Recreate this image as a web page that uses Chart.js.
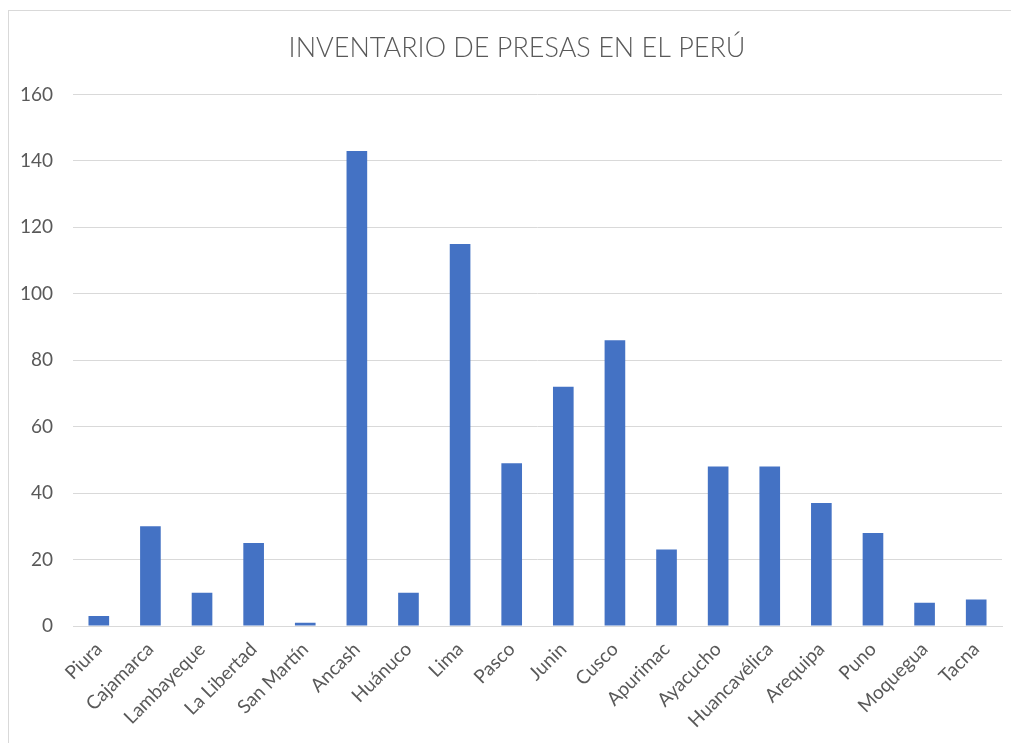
<!DOCTYPE html>
<html>
<head>
<meta charset="utf-8">
<script src="https://cdn.jsdelivr.net/npm/chart.js@4/dist/chart.umd.min.js"></script>
<style>
  html, body { margin: 0; padding: 0; background: #fff; }
  #wrap { position: relative; width: 1011px; height: 743px; overflow: hidden; }
  #frame { position: absolute; left: 8px; top: 10px; width: 1100px; height: 900px; border: 1px solid #d9d9d9; box-sizing: border-box; }
  canvas { position: absolute; left: 0; top: 0; }
</style>
</head>
<body>
<div id="wrap">
  <div id="frame"></div>
  <canvas id="c" width="1043" height="743"></canvas>
</div>
<script>
const title = "INVENTARIO DE PRESAS EN EL PERÚ";
const categories = ["Piura", "Cajamarca", "Lambayeque", "La Libertad", "San Martín", "Ancash", "Huánuco", "Lima", "Pasco", "Junin", "Cusco", "Apurimac", "Ayacucho", "Huancavélica", "Arequipa", "Puno", "Moquegua", "Tacna"];
const presas = [3, 30, 10, 25, 1, 143, 10, 115, 49, 72, 86, 23, 48, 48, 37, 28, 7, 8];
const yTicks = [0, 20, 40, 60, 80, 100, 120, 140, 160];

const textColor = "#595959";
const gridColor = "#d9d9d9";

new Chart(document.getElementById("c"), {
  type: "bar",
  data: {
    labels: categories,
    datasets: [{
      label: "Presas",
      data: presas,
      backgroundColor: "#4472C4",
      borderWidth: 0,
      barPercentage: 0.4,
      categoryPercentage: 1.0
    }]
  },
  options: {
    responsive: false,
    animation: false,
    devicePixelRatio: 1,
    layout: { padding: { left: 0, right: 9, top: 0, bottom: 0 } },
    plugins: {
      legend: { display: false },
      tooltip: { enabled: false },
      title: {
        display: true,
        text: title,
        color: textColor,
        font: { family: "Lato", size: 27, weight: "300", lineHeight: 1.2 },
        padding: { top: 32, bottom: 30 }
      }
    },
    scales: {
      x: {
        grid: { display: false, drawTicks: false },
        border: { display: true, color: gridColor, width: 1 },
        ticks: {
          color: textColor,
          font: { family: "Lato", size: 19 },
          maxRotation: 45,
          minRotation: 45,
          padding: 12,
          autoSkip: false
        },
        afterFit: (s) => { s.height = 743 - 626; }
      },
      y: {
        min: 0,
        max: 160,
        afterBuildTicks: (s) => { s.ticks = yTicks.map(v => ({ value: v })); },
        grid: { color: gridColor, lineWidth: 1, drawTicks: false },
        border: { display: false },
        ticks: {
          color: textColor,
          font: { family: "Lato", size: 19 },
          padding: 20
        },
        afterFit: (s) => { s.width = 73; }
      },
      ySpacer: {
        position: "right",
        min: 0,
        max: 160,
        grid: { display: false, drawOnChartArea: false, drawTicks: false },
        border: { display: false },
        ticks: { display: false },
        afterFit: (s) => { s.width = 32; }
      }
    }
  }
});
</script>
</body>
</html>
